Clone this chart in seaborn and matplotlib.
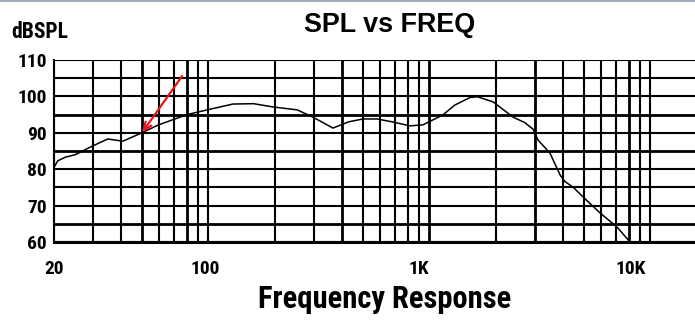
import matplotlib
matplotlib.use("Agg")
import matplotlib.pyplot as plt
import matplotlib.transforms as mtransforms
from matplotlib.lines import Line2D
from matplotlib.ticker import NullLocator
import pandas as pd
import seaborn as sns

# Measured SPL response of the driver
freq_hz = [20, 20.8, 22.5, 25, 29, 35, 41, 50, 59, 80, 102, 129, 160, 196,
           252, 297, 366, 430, 500, 579, 680, 817, 935, 1150, 1300, 1525,
           1650, 1940, 2390, 2700, 2940, 3100, 3510, 3900, 4100, 4460, 4950,
           5910, 7060, 8080]
spl_db = [80.5, 82.3, 83.3, 84.0, 86.0, 88.3, 87.7, 90.0, 92.1, 95.0, 96.5,
          97.9, 98.0, 97.1, 96.3, 94.3, 91.3, 93.0, 93.8, 93.8, 93.0, 91.9,
          92.2, 94.9, 97.6, 99.7, 99.9, 98.5, 94.3, 92.8, 91.0, 88.0, 84.4,
          78.4, 76.6, 75.1, 72.4, 68.0, 64.1, 60.0]

x_tick_values = [20, 100, 1000, 10000]
x_tick_labels = ["20", "100", "1K", "10K"]
y_tick_values = [60, 70, 80, 90, 100, 110]
y_tick_labels = ["60", "70", "80", "90", "100", "110"]

title_text = "SPL vs FREQ"
y_unit_text = "dBSPL"
x_title_text = "Frequency Response"

# Arrow pointing at the response curve
arrow_tail = (76, 105.6)
arrow_tip = (50, 90)

sns.set_style("white")
narrow = ["Roboto Condensed", "Pragati Narrow", "Archivo Narrow", "DejaVu Sans"]
wide = ["Liberation Sans", "DejaVu Sans"]
plt.rcParams["font.family"] = narrow
plt.rcParams["text.color"] = "black"
plt.rcParams["xtick.color"] = "black"
plt.rcParams["ytick.color"] = "black"

df = pd.DataFrame({"freq": freq_hz, "spl": spl_db})

fig = plt.figure(figsize=(6.95, 3.28), dpi=100)
ax = fig.add_axes([54 / 695, 86 / 328, 641 / 695, 182 / 328])

ax.set_xscale("log")
ax.set_xlim(20, 15900)
ax.set_ylim(60, 110)

# log-decade grid: every integer multiple within each decade
grid_x = []
for decade in (10, 100, 1000):
    for m in range(2 if decade == 10 else 1, 10):
        grid_x.append(m * decade)
grid_x.append(10000)
grid_y = list(range(60, 111, 5))
for gx in grid_x:
    lw = 2.0 if gx in (50, 80, 400, 1000, 3000, 8000) else 1.5
    ax.axvline(gx, color="black", lw=lw, zorder=1)
for gy in grid_y:
    lw = 2.0 if gy in (95, 85, 65) else 1.5
    ax.axhline(gy, color="black", lw=lw, zorder=1)

sns.lineplot(data=df, x="freq", y="spl", ax=ax, color="black", lw=1.1,
             zorder=3, legend=False)

ax.annotate("", xy=arrow_tip, xytext=arrow_tail,
            arrowprops=dict(arrowstyle="->,head_length=0.6,head_width=0.25",
                            color="#e8141c", lw=1.6, shrinkA=0, shrinkB=0),
            zorder=4)

ax.set_xticks(x_tick_values)
ax.set_xticklabels(x_tick_labels)
ax.xaxis.set_minor_locator(NullLocator())
ax.set_yticks(y_tick_values)
ax.set_yticklabels(y_tick_labels)
ax.tick_params(axis="both", length=0, labelsize=14, labelcolor="black")
ax.tick_params(axis="x", pad=13)
ax.tick_params(axis="y", pad=5)
for lbl in ax.get_xticklabels() + ax.get_yticklabels():
    lbl.set_fontweight("bold")

# horizontal nudges of the frequency labels
shifts_px = {"100": -3, "1K": -11, "10K": -20}
for lbl in ax.get_xticklabels():
    dx = shifts_px.get(lbl.get_text(), 0)
    if dx:
        lbl.set_transform(lbl.get_transform() +
                          mtransforms.ScaledTranslation(dx / 100, 0, fig.dpi_scale_trans))

ax.set_xlabel("")
ax.set_ylabel("")
for side in ("top", "right"):
    ax.spines[side].set_visible(False)
ax.spines["left"].set_linewidth(1.5)
ax.spines["bottom"].set_linewidth(2.2)
for s in ax.spines.values():
    s.set_color("black")

fig.text(390 / 695, 1 - 25 / 328, title_text, ha="center", va="center",
         fontsize=19.4, fontweight="bold", family=wide, color="black")
fig.text(11 / 695, 1 - 32 / 328, y_unit_text, ha="left", va="center",
         fontsize=15.5, fontweight="bold", color="black")
fig.text(385 / 695, 1 - 308 / 328, x_title_text, ha="center", va="baseline",
         fontsize=22, fontweight="bold", color="black")

# thin frame rule across the top edge
fig.add_artist(Line2D([0, 1], [0.997, 0.997], transform=fig.transFigure,
                      color="#a3adba", lw=1.5))

fig.savefig("out.png", dpi=100)
